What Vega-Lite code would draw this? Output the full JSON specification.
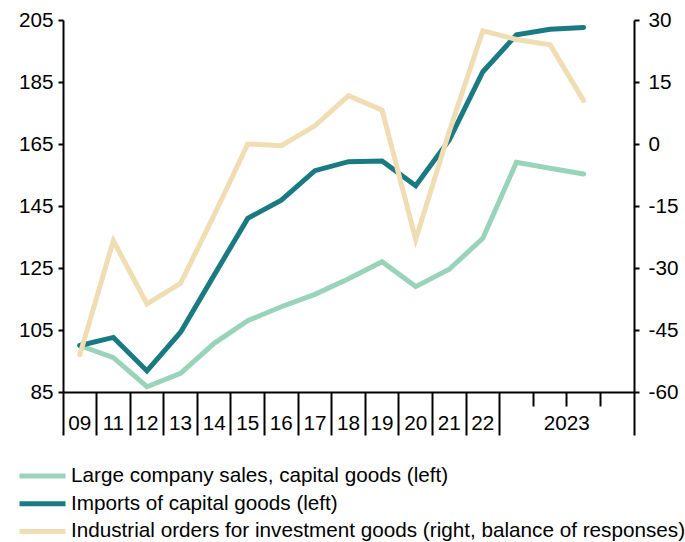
{
  "$schema": "https://vega.github.io/schema/vega-lite/v6.json",
  "width": 571,
  "height": 372,
  "autosize": {"type": "none"},
  "padding": {"left": 63, "top": 20, "right": 51, "bottom": 150},
  "background": "white",
  "data": {
    "values": [
      {"period": "09", "series": "Large company sales, capital goods (left)", "value": 100},
      {"period": "11", "series": "Large company sales, capital goods (left)", "value": 96.1},
      {"period": "12", "series": "Large company sales, capital goods (left)", "value": 86.7},
      {"period": "13", "series": "Large company sales, capital goods (left)", "value": 91},
      {"period": "14", "series": "Large company sales, capital goods (left)", "value": 100.7},
      {"period": "15", "series": "Large company sales, capital goods (left)", "value": 108},
      {"period": "16", "series": "Large company sales, capital goods (left)", "value": 112.5},
      {"period": "17", "series": "Large company sales, capital goods (left)", "value": 116.5},
      {"period": "18", "series": "Large company sales, capital goods (left)", "value": 121.5},
      {"period": "19", "series": "Large company sales, capital goods (left)", "value": 127},
      {"period": "20", "series": "Large company sales, capital goods (left)", "value": 119},
      {"period": "21", "series": "Large company sales, capital goods (left)", "value": 124.6},
      {"period": "22", "series": "Large company sales, capital goods (left)", "value": 134.6},
      {"period": "2023Q1", "series": "Large company sales, capital goods (left)", "value": 159.1},
      {"period": "2023Q2", "series": "Large company sales, capital goods (left)", "value": 157.2},
      {"period": "2023Q3", "series": "Large company sales, capital goods (left)", "value": 155.3},
      {"period": "09", "series": "Imports of capital goods (left)", "value": 100},
      {"period": "11", "series": "Imports of capital goods (left)", "value": 102.6},
      {"period": "12", "series": "Imports of capital goods (left)", "value": 91.8},
      {"period": "13", "series": "Imports of capital goods (left)", "value": 104.3},
      {"period": "14", "series": "Imports of capital goods (left)", "value": 122.7},
      {"period": "15", "series": "Imports of capital goods (left)", "value": 141},
      {"period": "16", "series": "Imports of capital goods (left)", "value": 146.9},
      {"period": "17", "series": "Imports of capital goods (left)", "value": 156.4},
      {"period": "18", "series": "Imports of capital goods (left)", "value": 159.3},
      {"period": "19", "series": "Imports of capital goods (left)", "value": 159.5},
      {"period": "20", "series": "Imports of capital goods (left)", "value": 151.5},
      {"period": "21", "series": "Imports of capital goods (left)", "value": 166.3},
      {"period": "22", "series": "Imports of capital goods (left)", "value": 188.3},
      {"period": "2023Q1", "series": "Imports of capital goods (left)", "value": 200.2},
      {"period": "2023Q2", "series": "Imports of capital goods (left)", "value": 202},
      {"period": "2023Q3", "series": "Imports of capital goods (left)", "value": 202.6},
      {"period": "09", "series": "Industrial orders for investment goods (right, balance of responses)", "value": -51},
      {"period": "11", "series": "Industrial orders for investment goods (right, balance of responses)", "value": -23.4},
      {"period": "12", "series": "Industrial orders for investment goods (right, balance of responses)", "value": -38.7},
      {"period": "13", "series": "Industrial orders for investment goods (right, balance of responses)", "value": -33.7},
      {"period": "14", "series": "Industrial orders for investment goods (right, balance of responses)", "value": -17.2},
      {"period": "15", "series": "Industrial orders for investment goods (right, balance of responses)", "value": 0},
      {"period": "16", "series": "Industrial orders for investment goods (right, balance of responses)", "value": -0.4},
      {"period": "17", "series": "Industrial orders for investment goods (right, balance of responses)", "value": 4.4},
      {"period": "18", "series": "Industrial orders for investment goods (right, balance of responses)", "value": 11.7},
      {"period": "19", "series": "Industrial orders for investment goods (right, balance of responses)", "value": 8.2},
      {"period": "20", "series": "Industrial orders for investment goods (right, balance of responses)", "value": -23.1},
      {"period": "21", "series": "Industrial orders for investment goods (right, balance of responses)", "value": 3},
      {"period": "22", "series": "Industrial orders for investment goods (right, balance of responses)", "value": 27.4},
      {"period": "2023Q1", "series": "Industrial orders for investment goods (right, balance of responses)", "value": 25.3},
      {"period": "2023Q2", "series": "Industrial orders for investment goods (right, balance of responses)", "value": 24},
      {"period": "2023Q3", "series": "Industrial orders for investment goods (right, balance of responses)", "value": 10.5}
    ]
  },
  "layer": [
    {
      "transform": [{"filter": "datum.series !== 'Industrial orders for investment goods (right, balance of responses)'"}],
      "mark": {"type": "line", "strokeWidth": 5, "strokeCap": "round"},
      "encoding": {
        "x": {
          "field": "period", "type": "ordinal", "bandPosition": 0.5,
          "scale": {"type": "band", "paddingInner": 0, "paddingOuter": 0,
            "domain": ["09","11","12","13","14","15","16","17","18","19","20","21","22","2023Q1","2023Q2","2023Q3","2023Q4"]},
          "axis": {
            "orient": "bottom", "title": null, "labelAngle": 0,
            "values": ["09","11","12","13","14","15","16","17","18","19","20","21","22","2023Q4"],
            "bandPosition": 1, "tickExtra": true, "tickSize": 43,
            "labelExpr": "datum.value == '2023Q4' ? '' : datum.value",
            "labelBaseline": "alphabetic", "labelPadding": -6,
            "labelOverlap": false, "labelBound": false, "labelFlush": false
          }
        },
        "y": {
          "field": "value", "type": "quantitative",
          "scale": {"domain": [85, 205], "nice": false, "zero": false},
          "axis": {"orient": "left", "title": null, "values": [85,105,125,145,165,185,205], "tickSize": 5, "labelPadding": 5, "grid": false}
        },
        "color": {
          "field": "series", "type": "nominal",
          "scale": {
            "domain": ["Large company sales, capital goods (left)", "Imports of capital goods (left)", "Industrial orders for investment goods (right, balance of responses)"],
            "range": ["#99d3b9", "#1a7a82", "#f0ddb3"]
          },
          "legend": {"title": null}
        }
      }
    },
    {
      "transform": [{"filter": "datum.series === 'Industrial orders for investment goods (right, balance of responses)'"}],
      "mark": {"type": "line", "strokeWidth": 5, "strokeCap": "round"},
      "encoding": {
        "x": {
          "field": "period", "type": "ordinal", "bandPosition": 0.5,
          "scale": {"type": "band", "paddingInner": 0, "paddingOuter": 0,
            "domain": ["09","11","12","13","14","15","16","17","18","19","20","21","22","2023Q1","2023Q2","2023Q3","2023Q4"]},
          "axis": {
            "orient": "bottom", "title": null, "domain": false, "labelAngle": 0,
            "values": ["2023Q1","2023Q2","2023Q3"],
            "bandPosition": 1, "tickSize": 14,
            "labelExpr": "datum.value == '2023Q2' ? '2023' : ''",
            "labelOffset": 16.8,
            "labelBaseline": "alphabetic", "labelPadding": 23,
            "labelOverlap": false, "labelBound": false, "labelFlush": false
          }
        },
        "y": {
          "field": "value", "type": "quantitative",
          "scale": {"domain": [-60, 30], "nice": false, "zero": false},
          "axis": {"orient": "right", "title": null, "values": [-60,-45,-30,-15,0,15,30], "labelExpr": "toString(datum.value)", "tickSize": 5, "labelPadding": 9, "grid": false}
        },
        "color": {"field": "series", "type": "nominal", "legend": {"title": null}}
      }
    }
  ],
  "resolve": {"scale": {"x": "independent", "y": "independent"}, "axis": {"x": "independent", "y": "independent"}},
  "config": {
    "view": {"stroke": null},
    "font": "Liberation Sans",
    "axis": {
      "labelFont": "Liberation Sans", "labelFontSize": 20.7, "labelColor": "#000000",
      "domainColor": "#000000", "domainWidth": 2, "tickColor": "#000000", "tickWidth": 2, "grid": false
    },
    "legend": {
      "orient": "none", "legendX": -46, "legendY": 446, "direction": "vertical",
      "symbolType": "stroke", "symbolSize": 2116, "symbolStrokeWidth": 5,
      "labelFont": "Liberation Sans", "labelFontSize": 20.7, "labelColor": "#000000",
      "labelOffset": 3, "rowPadding": 6.7, "clipHeight": 20, "labelLimit": 0, "padding": 0
    }
  }
}
